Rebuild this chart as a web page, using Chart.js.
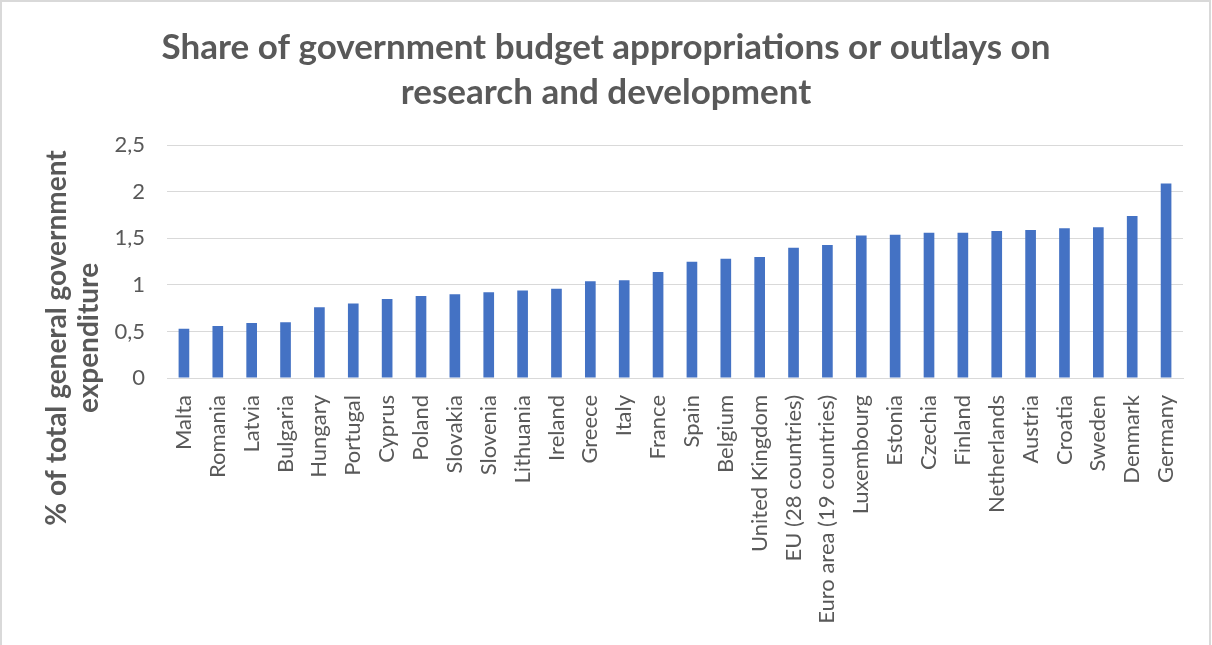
<!DOCTYPE html>
<html>
<head>
<meta charset="utf-8">
<script src="https://cdn.jsdelivr.net/npm/chart.js@4/dist/chart.umd.min.js"></script>
<style>
  body { margin: 0; background: #fff; }
  #wrap { width: 1212px; height: 645px; position: relative; }
</style>
</head>
<body>
<div id="wrap"><canvas id="myChart" width="1212" height="645"></canvas></div>
<script>
const countries = [
  "Malta", "Romania", "Latvia", "Bulgaria", "Hungary", "Portugal", "Cyprus",
  "Poland", "Slovakia", "Slovenia", "Lithuania", "Ireland", "Greece", "Italy",
  "France", "Spain", "Belgium", "United Kingdom", "EU (28 countries)",
  "Euro area (19 countries)", "Luxembourg", "Estonia", "Czechia", "Finland",
  "Netherlands", "Austria", "Croatia", "Sweden", "Denmark", "Germany",
];
const shares = [
  0.53, 0.56, 0.59, 0.6, 0.76, 0.8, 0.85, 0.88, 0.9, 0.92, 0.94, 0.96, 1.04,
  1.05, 1.14, 1.25, 1.28, 1.3, 1.4, 1.43, 1.53, 1.54, 1.56, 1.56, 1.58, 1.59,
  1.61, 1.62, 1.74, 2.09,
];
const yTicks = [0, 0.5, 1, 1.5, 2, 2.5];
const chartTitle = [
  "Share of government budget appropriations or outlays on",
  "research and development",
];
const yTitle = ["% of total general government", "expenditure"];

const textColor = "#595959";
const fontName = "Lato, 'Open Sans', sans-serif";

// frame round the chart + rotated y title centred on the whole height
const extras = {
  id: "extras",
  afterDraw(chart) {
    const c = chart.ctx;
    c.save();
    c.strokeStyle = "#d9d9d9";
    c.lineWidth = 2;
    c.strokeRect(1, 1, 1209, 660);
    c.fillStyle = textColor;
    c.font = "bold 28px " + fontName;
    c.textAlign = "center";
    c.textBaseline = "middle";
    c.translate(0, 338);
    c.rotate(-Math.PI / 2);
    c.fillText(yTitle[0], 0, 57);
    c.fillText(yTitle[1], 0, 89);
    c.restore();
  },
};

const ctx = document.getElementById("myChart").getContext("2d");
const myChart = new Chart(ctx, {
  type: "bar",
  data: {
    labels: countries,
    datasets: [
      {
        data: shares,
        backgroundColor: "#4472c4",
        barPercentage: 0.315,
        categoryPercentage: 1,
      },
    ],
  },
  options: {
    responsive: false,
    animation: false,
    layout: { padding: { left: 29, right: 29, top: 0, bottom: 0 } },
    plugins: {
      legend: { display: false },
      tooltip: { enabled: false },
      title: {
        display: true,
        text: chartTitle,
        color: textColor,
        font: { family: fontName, size: 35, weight: "bold", lineHeight: 1.29 },
        padding: { top: 25, bottom: 30 },
      },
    },
    scales: {
      x: {
        grid: { display: false, drawTicks: false },
        border: { color: "#d9d9d9", width: 1 },
        ticks: {
          color: textColor,
          font: { family: fontName, size: 22 },
          minRotation: 90,
          maxRotation: 90,
          autoSkip: false,
          padding: 17,
        },
        afterFit(scale) {
          scale.height = 267;
        },
      },
      y: {
        min: 0,
        max: 2.5,
        afterBuildTicks(scale) {
          scale.ticks = yTicks.map((v) => ({ value: v }));
        },
        grid: { color: "#d9d9d9", lineWidth: 1, drawTicks: false },
        border: { display: false },
        ticks: {
          color: textColor,
          font: { family: fontName, size: 22 },
          padding: 22,
          callback: (v) => String(v).replace(".", ","),
        },
        afterFit(scale) {
          scale.width = 138;
        },
      },
    },
  },
  plugins: [extras],
});
</script>
</body>
</html>
